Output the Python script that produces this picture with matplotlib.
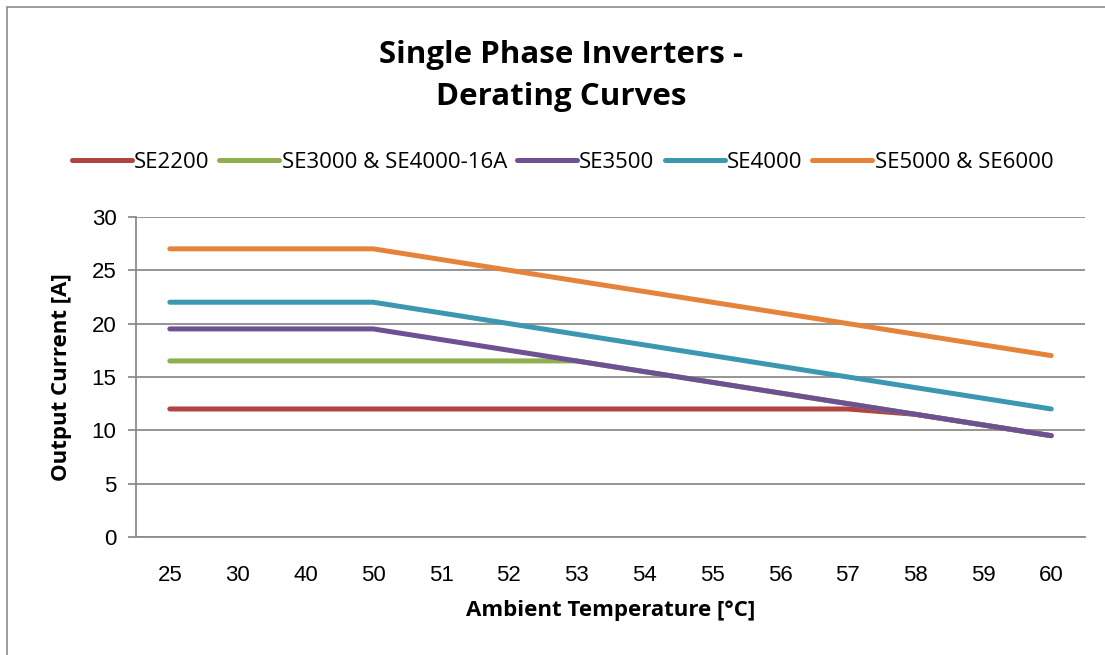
import matplotlib
matplotlib.use('Agg')

import matplotlib.pyplot as plt
from matplotlib.patches import Rectangle

# categories on the x axis (Excel category axis, so evenly spaced)
temps = ['25', '30', '40', '50', '51', '52', '53', '54', '55', '56', '57', '58', '59', '60']

se2200 = [12, 12, 12, 12, 12, 12, 12, 12, 12, 12, 12, 11.5, 10.5, 9.5]
se3000 = [16.5, 16.5, 16.5, 16.5, 16.5, 16.5, 16.5, 15.5, 14.5, 13.5, 12.5, 11.5, 10.5, 9.5]
se3500 = [19.5, 19.5, 19.5, 19.5, 18.5, 17.5, 16.5, 15.5, 14.5, 13.5, 12.5, 11.5, 10.5, 9.5]
se4000 = [22, 22, 22, 22, 21, 20, 19, 18, 17, 16, 15, 14, 13, 12]
se5000 = [27, 27, 27, 27, 26, 25, 24, 23, 22, 21, 20, 19, 18, 17]

names = ['SE2200', 'SE3000 & SE4000-16A', 'SE3500', 'SE4000', 'SE5000 & SE6000']
colors = ['#B04441', '#8FAE4E', '#6D5192', '#3C98B0', '#E5833B']

fig = plt.figure(figsize=(11.05, 6.55), dpi=100)
# outer chart border like excel
fig.patches.append(Rectangle((7 / 1105, -0.1), 1.2, 1.1 - 7 / 655, transform=fig.transFigure,
                             fill=False, edgecolor='#8c8c8c', linewidth=1.2))

ax = fig.add_axes([0.123, 0.180, 0.859, 0.489])
x = list(range(len(temps)))
for ys, name, c in zip([se2200, se3000, se3500, se4000, se5000], names, colors):
    ax.plot(x, ys, color=c, linewidth=3.6, solid_capstyle='round', label=name)

ax.set_xlim(-0.5, len(temps) - 0.5)
ax.set_ylim(0, 30)
ax.set_yticks(range(0, 31, 5))
ax.set_xticks(x)
ax.set_xticklabels(temps)
ax.grid(axis='y', color='#8c8c8c', linewidth=1.3)
ax.set_axisbelow(True)
for s in ['top', 'right']:
    ax.spines[s].set_visible(False)
ax.spines['left'].set_color('#8c8c8c')
ax.spines['left'].set_linewidth(1.3)
ax.spines['bottom'].set_color('#8c8c8c')
ax.spines['bottom'].set_linewidth(1.3)
ax.tick_params(axis='y', length=6, color='#8c8c8c', width=1.3, labelsize=16, pad=8)
ax.tick_params(axis='x', length=0, labelsize=16, pad=20)
for lab in ax.get_xticklabels() + ax.get_yticklabels():
    lab.set_family('Liberation Sans')

ax.set_xlabel('Ambient Temperature [°C]', fontsize=16, fontweight='bold', family='Open Sans', labelpad=10)
ax.set_ylabel('Output Current [A]', fontsize=16, fontweight='bold', family='Open Sans', labelpad=14)

fig.text(0.508, 0.884, 'Single Phase Inverters -\nDerating Curves', ha='center', va='center',
         fontsize=22.5, fontweight='bold', family='Open Sans', linespacing=1.5)

fig.legend(loc='center', bbox_to_anchor=(0.509, 0.752), ncol=5, frameon=False,
           prop={'family': 'Open Sans', 'size': 16}, handlelength=2.7, handletextpad=0.1,
           columnspacing=0.45)

plt.savefig('out.png')
